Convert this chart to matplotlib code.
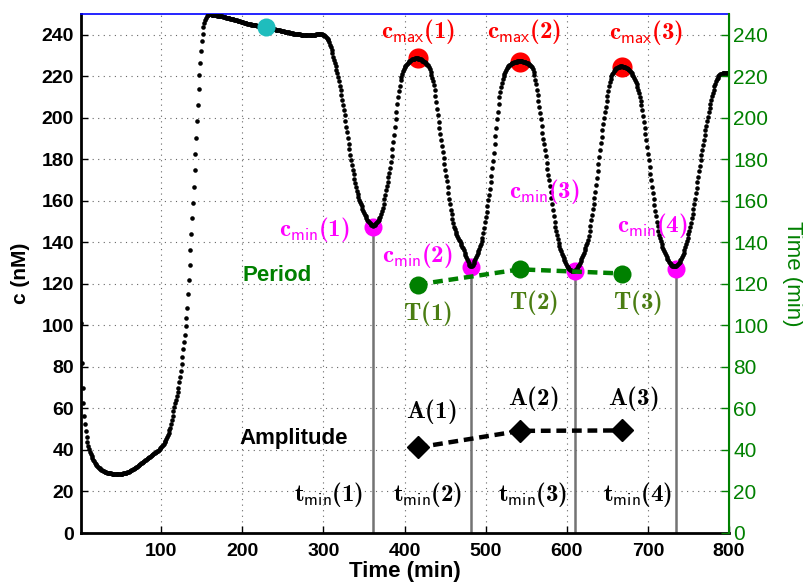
import numpy as np
import matplotlib.pyplot as plt

plt.rcParams['font.family'] = 'sans-serif'
plt.rcParams['font.sans-serif'] = ['Liberation Sans', 'DejaVu Sans']
plt.rcParams['mathtext.fontset'] = 'custom'
plt.rcParams['mathtext.rm'] = 'cmr10'
plt.rcParams['mathtext.bf'] = 'cmb10'
plt.rcParams['mathtext.sf'] = 'cmss10'

# concentration c (nM), one sample per minute, t = 1..800
c_001_200 = [
    101, 82, 70, 62.5, 56.5, 52.5, 49, 46.3, 44, 42,
    40.5, 39.2, 38, 37, 36, 35.2, 34.5, 33.8, 33.2, 32.6,
    32.2, 31.8, 31.4, 31.1, 30.8, 30.5, 30.2, 30, 29.8, 29.6,
    29.4, 29.2, 29.1, 29, 28.9, 28.8, 28.7, 28.7, 28.6, 28.6,
    28.5, 28.5, 28.5, 28.5, 28.4, 28.4, 28.4, 28.4, 28.4, 28.5,
    28.5, 28.6, 28.7, 28.8, 28.9, 29, 29.1, 29.3, 29.4, 29.6,
    29.8, 30, 30.2, 30.5, 30.7, 31, 31.2, 31.5, 31.8, 32,
    32.3, 32.6, 32.9, 33.2, 33.5, 33.8, 34.1, 34.4, 34.7, 35,
    35.3, 35.6, 35.9, 36.2, 36.5, 36.8, 37.1, 37.4, 37.7, 38,
    38.3, 38.6, 38.9, 39.2, 39.5, 39.7, 40, 40.4, 40.8, 41.3,
    41.8, 42.4, 43, 43.7, 44.4, 45.2, 46.1, 47.1, 48.2, 49.4,
    50.7, 52.3, 54.2, 56.4, 58.7, 60.8, 62.6, 64.3, 66, 67.8,
    70, 72.5, 75, 78, 81.5, 85, 88.5, 92, 95.5, 99.5,
    103.5, 108.5, 115, 122, 129, 136.5, 144, 151.5, 159, 166.6,
    174.7, 182.5, 190.5, 198.3, 206, 213.7, 220.6, 226.5, 232.1, 237,
    240.6, 243.5, 245.7, 247.2, 248.3, 249, 249.4, 249.7, 249.8, 249.8,
    249.8, 249.7, 249.7, 249.6, 249.5, 249.4, 249.4, 249.3, 249.2, 249.2,
    249.1, 249, 248.9, 248.9, 248.8, 248.7, 248.6, 248.5, 248.4, 248.3,
    248.2, 248.1, 248, 247.9, 247.8, 247.7, 247.6, 247.5, 247.4, 247.3,
    247.1, 247, 246.9, 246.8, 246.7, 246.6, 246.4, 246.3, 246.2, 246.1,
]
c_201_400 = [
    246, 245.9, 245.8, 245.6, 245.5, 245.4, 245.3, 245.2, 245.1, 245,
    244.9, 244.9, 244.8, 244.7, 244.6, 244.5, 244.5, 244.4, 244.3, 244.2,
    244.2, 244.1, 244, 243.9, 243.8, 243.8, 243.7, 243.6, 243.5, 243.4,
    243.3, 243.3, 243.2, 243.1, 243, 242.9, 242.8, 242.8, 242.7, 242.6,
    242.5, 242.4, 242.3, 242.2, 242.1, 242.1, 242, 241.9, 241.8, 241.7,
    241.6, 241.5, 241.4, 241.4, 241.3, 241.2, 241.1, 241, 240.9, 240.9,
    240.8, 240.7, 240.6, 240.6, 240.5, 240.4, 240.4, 240.3, 240.3, 240.2,
    240.2, 240.1, 240.1, 240, 240, 240, 239.9, 239.9, 239.9, 239.9,
    239.9, 239.9, 239.9, 239.9, 239.9, 240, 240, 240, 240.1, 240.1,
    240.2, 240.2, 240.3, 240.3, 240.3, 240.3, 240.3, 240.2, 240.1, 239.9,
    239.7, 239.4, 239, 238.6, 238.1, 237.4, 236.4, 235.2, 233.9, 232.5,
    231, 229.5, 228, 226.4, 224.8, 223.2, 221.5, 219.6, 217.6, 215.5,
    213.3, 211, 208.7, 206.4, 203.9, 201.3, 198.6, 195.8, 193, 190.2,
    187.5, 184.8, 182.2, 179.7, 177.3, 175, 172.7, 170.6, 168.6, 166.7,
    164.8, 163.1, 161.8, 160.6, 159.5, 158.4, 157.3, 156.3, 155.3, 154.3,
    153.4, 152.5, 151.7, 150.9, 150.2, 149.6, 149.1, 148.7, 148.4, 148.2,
    148.1, 148.2, 148.5, 149, 149.4, 149.9, 150.4, 151, 151.6, 152.3,
    153.5, 155, 156.7, 158.6, 160.7, 162.9, 165, 167.1, 169.2, 171.3,
    173.5, 175.8, 178.6, 181.6, 184.8, 188.2, 191.8, 195.5, 199.2, 202.9,
    206.5, 209.8, 212.8, 215.5, 218.2, 219.8, 221.2, 222.4, 223.4, 224.3,
]
c_401_600 = [
    225, 225.6, 226.1, 226.6, 227, 227.3, 227.6, 227.9, 228.1, 228.3,
    228.4, 228.5, 228.6, 228.6, 228.6, 228.6, 228.5, 228.4, 228.3, 228.1,
    227.9, 227.6, 227.3, 227, 226.7, 226.3, 225.9, 225.5, 225.2, 224.4,
    223.4, 222.2, 220.8, 219.2, 217.6, 215.6, 213.3, 210.5, 207.5, 204.4,
    201.3, 198.2, 195.1, 192, 189.1, 186.3, 183.5, 180.6, 177.8, 175,
    172.2, 169.4, 166.6, 163.8, 161, 158.3, 155.8, 153.5, 151.4, 149.4,
    147.6, 146.5, 145.2, 144, 143, 142.1, 141.3, 140.6, 139.8, 138.9,
    138, 137.1, 136.1, 135.1, 134.1, 133.1, 132.1, 131.1, 130.1, 129.3,
    128.7, 128.5, 128.7, 129.3, 130.1, 131, 132, 133, 134, 135,
    136, 137, 138.1, 139.3, 140.7, 142.3, 144.5, 147, 149.6, 152.2,
    154.8, 157.5, 160.2, 163, 165.9, 169, 172.2, 175.6, 179.3, 183.2,
    187.2, 191.2, 195.2, 199.2, 203, 206.6, 209.8, 212.6, 215, 217,
    218.7, 220.1, 221.3, 222.3, 223.1, 223.8, 224.4, 224.9, 225.3, 225.6,
    225.9, 226.2, 226.4, 226.6, 226.8, 226.9, 227, 227.1, 227.2, 227.2,
    227.3, 227.3, 227.3, 227.2, 227.2, 227.1, 227, 226.9, 226.8, 226.6,
    226.4, 226.2, 225.9, 225.6, 225.3, 224.9, 224.3, 223.3, 222, 220.4,
    218.4, 216.2, 213.6, 210.9, 208, 205.2, 202.3, 199.2, 196, 192.9,
    190, 187.2, 184.3, 181.4, 178.3, 175.3, 172.5, 169.8, 167, 164.1,
    161.2, 158.3, 155.4, 152.6, 150, 147.6, 145.4, 143.4, 141.5, 139.8,
    138.3, 137, 135.8, 134.6, 133.5, 132.4, 131.4, 130.5, 129.6, 128.8,
]
c_601_800 = [
    128.1, 127.5, 127, 126.7, 126.5, 126.4, 126.3, 126.3, 126.4, 126.6,
    126.9, 127.3, 127.8, 128.4, 129.1, 129.9, 130.8, 131.8, 132.9, 134,
    135.1, 136.3, 137.5, 138.7, 139.9, 141.2, 143, 145.5, 148.1, 150.7,
    153.3, 155.9, 158.5, 161.3, 164.3, 167.6, 171, 174.4, 177.8, 181.2,
    184.5, 187.7, 190.8, 193.9, 196.9, 199.8, 202.6, 205.3, 208, 210.6,
    213, 215.2, 217.1, 218.7, 220, 221, 221.8, 222.5, 223, 223.5,
    223.9, 224.2, 224.4, 224.6, 224.7, 224.8, 224.8, 224.8, 224.7, 224.6,
    224.5, 224.3, 224.1, 223.9, 223.6, 223.3, 222.9, 222.5, 222, 221.4,
    220.8, 220.1, 219.3, 218.4, 217.4, 216.3, 215, 213.6, 212, 210.2,
    208.2, 206, 203.6, 201, 198.2, 195.3, 192.3, 189.2, 186, 182.8,
    179.5, 176.3, 173.1, 170, 166.9, 163.8, 160.8, 157.9, 155.1, 152.5,
    150, 147.7, 145.6, 143.7, 142, 140.5, 139.2, 138, 136.9, 135.8,
    134.8, 133.8, 132.9, 132.1, 131.3, 130.6, 130, 129.5, 129.1, 128.8,
    128.6, 128.5, 128.5, 128.6, 128.8, 129.1, 129.5, 130, 130.6, 131.3,
    132.1, 133, 134, 135.1, 136.3, 137.6, 139, 140.5, 142.1, 143.8,
    145.6, 147.5, 149.5, 151.6, 153.8, 156.1, 158.5, 161, 163.6, 166.2,
    168.9, 171.6, 174.3, 177, 179.7, 182.2, 184.7, 187.1, 189.5, 191.8,
    194, 196.2, 198.4, 200.5, 202.6, 204.6, 206.6, 208.5, 210.3, 212,
    213.6, 215.1, 216.4, 217.6, 218.6, 219.4, 220, 220.5, 220.9, 221.2,
    221.3, 221.4, 221.4, 221.5, 221.5, 221.5, 221.5, 221.4, 221.4, 221.4,
]

# extracted features
cmax_t = [416.2, 542.3, 668.5]
cmax_c = [228.6, 227.0, 224.6]
cmin_t = [361.5, 481.5, 610.0, 734.5]
cmin_c = [147.5, 128.3, 126.2, 127.2]
period_t = [416.2, 542.3, 668.5]
period = [119.7, 127.0, 125.0]
amp_t = [416.2, 542.3, 668.5]
amp = [41.2, 49.2, 49.4]
start_t, start_c = 228.7, 243.5


def main():
    minutes = np.arange(1, 801)
    conc = np.array(c_001_200 + c_201_400 + c_401_600 + c_601_800)

    fig = plt.figure(figsize=(8.04, 5.84), dpi=100)
    ax = fig.add_axes([81 / 804, 51 / 584, 648 / 804, 519 / 584])
    green = '#008000'

    ax.vlines(cmin_t, 0, cmin_c, colors='0.45', lw=1.8, zorder=2)
    ax.plot(cmax_t, cmax_c, 'o', color='red', ms=14.5, mew=0, zorder=3)
    ax.plot(cmin_t, cmin_c, 'o', color='magenta', ms=13, mew=0, zorder=3)
    ax.plot(minutes, conc, 'o', color='black', ms=3.3, mew=0, zorder=4)
    ax.plot([start_t], [start_c], 'o', color='#1fbdbd', ms=13, mew=0, zorder=5)
    ax.plot(amp_t, amp, 'kD', ms=11.5, lw=3.2, ls='--', dashes=(2.2, 1.3),
            zorder=5)

    # labels on the curve
    math_kw = dict(fontsize=18, ha='center', va='center', zorder=6)
    for i, (x, y) in enumerate([(417, 241.4), (547, 241.4), (698, 241)]):
        ax.text(x, y, r'$\mathbf{c}_{\mathsf{max}}\mathbf{(%d)}$' % (i + 1),
                color='red', **math_kw)
    for i, (x, y) in enumerate([(288.3, 146.3), (416, 133.5),
                                (571.9, 164.7), (705.7, 147.9)]):
        ax.text(x, y, r'$\mathbf{c}_{\mathsf{min}}\mathbf{(%d)}$' % (i + 1),
                color='magenta', **math_kw)
    for i, (x, y) in enumerate([(428.3, 105.8), (558.7, 111), (687, 111)]):
        ax.text(x, y, r'$\mathbf{T(%d)}$' % (i + 1), color='#4a7d12',
                **math_kw)
    for i, (x, y) in enumerate([(433.4, 58.3), (558.7, 64.7), (682, 64.7)]):
        ax.text(x, y, r'$\mathbf{A(%d)}$' % (i + 1), color='black', **math_kw)
    for i, x in enumerate([306, 428.3, 557.7, 687.2]):
        ax.text(x, 18.4, r'$\mathbf{t}_{\mathsf{min}}\mathbf{(%d)}$' % (i + 1),
                color='black', **math_kw)
    ax.text(242.3, 123.9, 'Period', color=green, fontsize=16,
            fontweight='bold', ha='center', va='center')
    ax.text(263.6, 45.6, 'Amplitude', color='black', fontsize=16,
            fontweight='bold', ha='center', va='center')

    ax.set_xlim(1, 800)
    ax.set_ylim(0, 250)
    ax.set_xticks(range(100, 801, 100))
    ax.set_yticks(range(0, 241, 20))
    ax.grid(True, color='0.4', lw=0.8, linestyle=(0, (1, 4)))
    ax.tick_params(direction='in', length=5, width=1, labelsize=14, pad=5)
    ax.tick_params(axis='x', pad=7)
    for lbl in ax.get_xticklabels() + ax.get_yticklabels():
        lbl.set_fontweight('bold')
    ax.set_xlabel('Time (min)', fontsize=16, fontweight='bold', labelpad=1)
    ax.set_ylabel('c (nM)', fontsize=15, fontweight='bold', labelpad=8)
    ax.spines['left'].set_linewidth(2)
    ax.spines['bottom'].set_linewidth(2)
    ax.spines['top'].set_color('blue')
    ax.spines['top'].set_linewidth(1.2)

    # right axis: period in minutes
    ax2 = ax.twinx()
    ax2.plot(period_t, period, 'o', color=green, ms=13, mew=0, lw=3.2,
             ls='--', dashes=(2.2, 1.3), zorder=5)
    ax2.set_ylim(0, 250)
    ax2.set_yticks(range(0, 241, 20))
    ax2.tick_params(direction='in', length=6, width=1, colors=green,
                    labelsize=15, pad=3)
    ax2.set_ylabel('Time (min)', color=green, fontsize=16, rotation=270,
                   labelpad=25)
    for side in ['top', 'left', 'bottom']:
        ax2.spines[side].set_visible(False)
    ax2.spines['right'].set_color(green)
    ax2.spines['right'].set_linewidth(1.5)

    fig.savefig('out.png', dpi=100)


if __name__ == '__main__':
    main()
